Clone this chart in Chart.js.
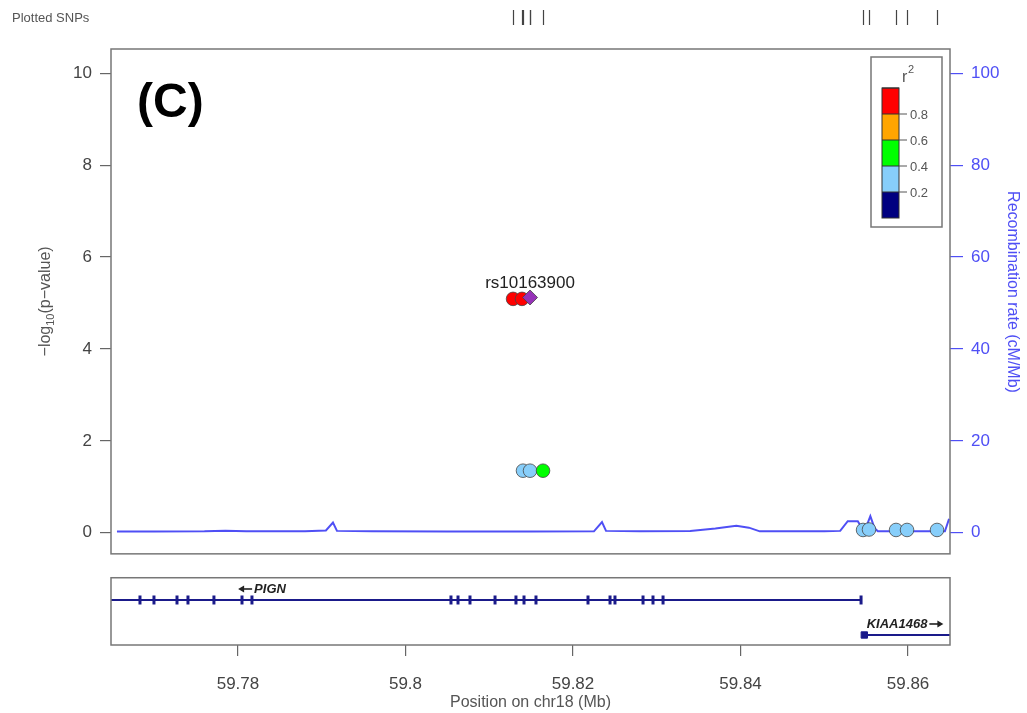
<!DOCTYPE html>
<html><head><meta charset="utf-8">
<script src="https://cdn.jsdelivr.net/npm/chart.js@4.4.1/dist/chart.umd.min.js"></script>
<style>html,body{margin:0;padding:0;background:#fff;}canvas{display:block;}</style>
</head><body>
<canvas id="c" width="1027" height="713"></canvas>
<script>
// ---- data ----
const snpPos   = [59.81284, 59.81391, 59.81487, 59.81403, 59.81487, 59.81642, 59.85463, 59.85534, 59.85857, 59.85988, 59.86346];
const snpLogP  = [5.09, 5.09, 5.12, 1.35, 1.35, 1.35, 0.06, 0.07, 0.06, 0.06, 0.06];
const snpR2    = [0.92, 0.88, 1.0, 0.30, 0.32, 0.50, 0.25, 0.22, 0.28, 0.24, 0.26];
const leadIndex = 2;
const leadName  = 'rs10163900';

const recombPos  = [59.76555,59.7700,59.7760,59.7785,59.7810,59.7880,59.7905,59.79134,59.79182,59.7960,59.8050,59.8150,59.8225,59.82346,59.82394,59.8280,59.8340,59.8370,59.8395,59.8410,59.8423,59.8500,59.8519,59.8528,59.8540,59.8545,59.8550,59.8555,59.8560,59.8564,59.8600,59.8644,59.8649];
const recombRate = [0.25,0.28,0.30,0.45,0.30,0.30,0.50,2.20,0.40,0.30,0.25,0.25,0.30,2.30,0.40,0.30,0.35,0.90,1.50,1.10,0.30,0.30,0.40,2.50,2.50,1.00,1.20,3.60,1.00,0.30,0.30,0.30,3.00];

const geneNames  = ['PIGN', 'KIAA1468'];
const geneStart  = [59.7600, 59.85470];
const geneEnd    = [59.85448, 59.8720];
const geneStrand = ['-', '+'];
const geneRow    = [1, 2];
const geneLabelPos = [59.78287, 59.85964];
const pignExons  = [59.76830,59.76997,59.77272,59.77403,59.77713,59.78048,59.78167,59.80543,59.80627,59.80770,59.81069,59.81319,59.81415,59.81558,59.82179,59.82442,59.82501,59.82836,59.82955,59.83075,59.85439];
const kiaaExons  = [59.85478];

const xTicks      = [59.78, 59.80, 59.82, 59.84, 59.86];
const pTicks      = [0, 2, 4, 6, 8, 10];
const recombTicks = [0, 20, 40, 60, 80, 100];

const ldBreaks = [0.2, 0.4, 0.6, 0.8];
const ldColors = ['#000080', '#87CEFA', '#00FF00', '#FFA500', '#FF0000'];
const leadColor = '#9632B8';

// ---- helpers ----
const FONT = '"Liberation Sans", Arial, sans-serif';
const BLUE = '#4f4ff5';
const GENE = '#1a1a8a';
function ldColor(r2){ let i=0; while(i<ldBreaks.length && r2>=ldBreaks[i]) i++; return ldColors[i]; }
const panelGap = [-0.46, -0.98]; // main panel bottom / gene panel top (in -log10 p units)

const snpData = snpPos.map((x,i)=>({x, y:snpLogP[i]}));
const snpColors = snpR2.map((r,i)=> i===leadIndex ? leadColor : ldColor(r));
const snpStyles = snpR2.map((r,i)=> i===leadIndex ? 'rectRot' : 'circle');
const snpRadius = snpR2.map((r,i)=> i===leadIndex ? 7.5 : 6.8);

const geneDatasets = geneNames.map((g,i)=>({
  label:g, yAxisID:'yg', showLine:true, pointRadius:0, borderColor:GENE, borderWidth:2, order:5,
  data:[{x:geneStart[i], y:geneRow[i]},{x:geneEnd[i], y:geneRow[i]}]
}));

function arrow(ctx, x1, x2, y){
  const dir = Math.sign(x2-x1);
  ctx.beginPath(); ctx.moveTo(x1, y); ctx.lineTo(x2 - dir*5, y); ctx.stroke();
  ctx.beginPath(); ctx.moveTo(x2, y); ctx.lineTo(x2 - dir*6, y-3.5); ctx.lineTo(x2 - dir*6, y+3.5); ctx.closePath(); ctx.fill();
}

const decor = {
  id:'decor',
  afterDraw(chart){
    const ctx = chart.ctx, xs = chart.scales.x, ys = chart.scales.y, yg = chart.scales.yg, ca = chart.chartArea;
    ctx.save();
    // frames
    const mainBottom = ys.getPixelForValue(panelGap[0]);
    const geneTop = ys.getPixelForValue(panelGap[1]);
    ctx.strokeStyle = '#777'; ctx.lineWidth = 1.5;
    ctx.strokeRect(ca.left, ca.top, ca.right-ca.left, mainBottom-ca.top);
    ctx.strokeRect(ca.left, geneTop, ca.right-ca.left, ca.bottom-geneTop);
    // plotted SNPs rug
    ctx.fillStyle = '#555'; ctx.font = '13px '+FONT; ctx.textBaseline='middle'; ctx.textAlign='left';
    ctx.fillText('Plotted SNPs', 12, 18);
    ctx.strokeStyle = '#444'; ctx.lineWidth = 1.2;
    snpPos.forEach(p=>{ const x = Math.round(xs.getPixelForValue(p))+0.5; ctx.beginPath(); ctx.moveTo(x,10); ctx.lineTo(x,25); ctx.stroke(); });
    // panel label
    ctx.fillStyle = '#000'; ctx.font = 'bold 48px '+FONT; ctx.textBaseline='alphabetic';
    ctx.fillText('(C)', 137, 117);
    // lead SNP label
    ctx.fillStyle = '#222'; ctx.font = '17px '+FONT; ctx.textAlign='center';
    ctx.fillText(leadName, xs.getPixelForValue(snpPos[leadIndex]), ys.getPixelForValue(snpLogP[leadIndex]) - 9);
    // gene labels
    ctx.font = 'italic bold 13px '+FONT; ctx.fillStyle = '#222'; ctx.strokeStyle='#222'; ctx.lineWidth=1.6;
    geneNames.forEach((g,i)=>{
      const cx = xs.getPixelForValue(geneLabelPos[i]);
      const y = yg.getPixelForValue(geneRow[i]) - 11;
      const w = ctx.measureText(g).width, aw = 14, tot = w + aw + 2;
      ctx.textAlign='left'; ctx.textBaseline='middle';
      if(geneStrand[i]==='-'){
        const x0 = cx - tot/2;
        arrow(ctx, x0+aw, x0, y);
        ctx.fillText(g, x0+aw+2, y);
      } else {
        const x0 = cx - tot/2;
        ctx.fillText(g, x0, y);
        arrow(ctx, x0+w+2, x0+w+2+aw, y);
      }
    });
    // axis titles
    ctx.fillStyle = '#555'; ctx.font = '16px '+FONT; ctx.textBaseline='middle'; ctx.textAlign='center';
    ctx.fillText('Position on chr18 (Mb)', (ca.left+ca.right)/2, 703);
    ctx.save(); ctx.translate(46, (ca.top+mainBottom)/2); ctx.rotate(-Math.PI/2);
    {
      const f1='16px '+FONT, f2='11px '+FONT;
      ctx.font=f1; const a=ctx.measureText('\u2212log').width, c=ctx.measureText('(p\u2212value)').width;
      ctx.font=f2; const b=ctx.measureText('10').width;
      let x = -(a+b+c)/2; ctx.textAlign='left';
      ctx.font=f1; ctx.fillText('\u2212log', x, 0); x+=a;
      ctx.font=f2; ctx.fillText('10', x, 5); x+=b;
      ctx.font=f1; ctx.fillText('(p\u2212value)', x, 0);
    }
    ctx.restore();
    ctx.save(); ctx.fillStyle = BLUE; ctx.translate(1012, 292); ctx.rotate(Math.PI/2);
    ctx.font='16px '+FONT; ctx.textAlign='center';
    ctx.fillText('Recombination rate (cM/Mb)', 0, 0); ctx.restore();
    // r2 legend
    const lx=871, ly=57, lw=71, lh=170, bx=882, bw=17, by=88, bh=26;
    ctx.fillStyle='#fff'; ctx.fillRect(lx,ly,lw,lh);
    ctx.strokeStyle='#777'; ctx.lineWidth=1.5; ctx.strokeRect(lx,ly,lw,lh);
    ctx.fillStyle='#555'; ctx.textAlign='left'; ctx.textBaseline='alphabetic';
    ctx.font='16px '+FONT; ctx.fillText('r', 902, 82);
    ctx.font='11px '+FONT; ctx.fillText('2', 908, 73);
    const rev = ldColors.slice().reverse();
    rev.forEach((c,i)=>{ ctx.fillStyle=c; ctx.fillRect(bx, by+i*bh, bw, bh); });
    ctx.strokeStyle='#333'; ctx.lineWidth=1; ctx.strokeRect(bx, by, bw, bh*rev.length);
    for(let i=0;i<rev.length;i++){ ctx.beginPath(); ctx.moveTo(bx, by+i*bh); ctx.lineTo(bx+bw, by+i*bh); ctx.stroke(); }
    ctx.font='13px '+FONT; ctx.textAlign='left'; ctx.textBaseline='middle'; ctx.fillStyle='#555'; ctx.strokeStyle='#555';
    ldBreaks.slice().reverse().forEach((b,i)=>{
      const y = by+(i+1)*bh;
      ctx.beginPath(); ctx.moveTo(bx+bw, y); ctx.lineTo(bx+bw+8, y); ctx.stroke();
      ctx.fillText(String(b), bx+bw+11, y+1);
    });
    ctx.restore();
  }
};

new Chart(document.getElementById('c'), {
  type:'scatter',
  data:{ datasets:[
    { label:'SNPs', data:snpData, yAxisID:'y', pointBackgroundColor:snpColors, pointStyle:snpStyles,
      pointRadius:snpRadius, pointBorderColor:'rgba(70,70,70,0.8)', pointBorderWidth:1, order:0 },
    { label:'Recombination', data:recombPos.map((x,i)=>({x, y:recombRate[i]})), yAxisID:'yr', showLine:true,
      pointRadius:0, borderColor:BLUE, borderWidth:2, order:10 },
    ...geneDatasets,
    { label:'PIGN exons', data:pignExons.map(x=>({x, y:geneRow[0]})), yAxisID:'yg', pointStyle:'line', rotation:90,
      pointRadius:4.5, pointBorderColor:GENE, pointBorderWidth:3, order:4 },
    { label:'KIAA1468 exons', data:kiaaExons.map(x=>({x, y:geneRow[1]})), yAxisID:'yg', pointStyle:'rect',
      pointRadius:4.5, pointBackgroundColor:GENE, pointBorderColor:GENE, pointBorderWidth:1, order:4 }
  ]},
  options:{
    responsive:false, animation:false, devicePixelRatio:1,
    layout:{ padding:{ top:49, left:0, right:0, bottom:0 } },
    plugins:{ legend:{display:false}, tooltip:{enabled:false} },
    scales:{
      x:{ type:'linear', position:'bottom', min:59.76484, max:59.86501,
        afterFit:s=>{ s.height = 68; },
        afterBuildTicks:s=>{ s.ticks = xTicks.map(v=>({value:v})); },
        ticks:{ callback:v=>String(parseFloat(Number(v).toFixed(2))), font:{family:FONT, size:17}, color:'#444', padding:18, maxRotation:0, autoSkip:false },
        grid:{ drawOnChartArea:false, drawTicks:true, tickLength:11, color:'#666', lineWidth:1.2 },
        border:{ display:false } },
      y:{ type:'linear', position:'left', min:-2.444, max:10.529,
        afterFit:s=>{ s.width = 111; },
        afterBuildTicks:s=>{ s.ticks = pTicks.map(v=>({value:v})); },
        ticks:{ font:{family:FONT, size:17}, color:'#444', padding:8 },
        grid:{ drawOnChartArea:false, drawTicks:true, tickLength:11, color:'#666', lineWidth:1.2 },
        border:{ display:false } },
      yr:{ type:'linear', position:'right', min:-24.44, max:105.29,
        afterFit:s=>{ s.width = 77; },
        afterBuildTicks:s=>{ s.ticks = recombTicks.map(v=>({value:v})); },
        ticks:{ font:{family:FONT, size:17}, color:BLUE, padding:8 },
        grid:{ drawOnChartArea:false, drawTicks:true, tickLength:13, color:BLUE, lineWidth:1.2 },
        border:{ display:false } },
      yg:{ type:'linear', display:false, min:-14.743, max:2.286, reverse:true }
    }
  },
  plugins:[decor]
});
</script>
</body></html>
